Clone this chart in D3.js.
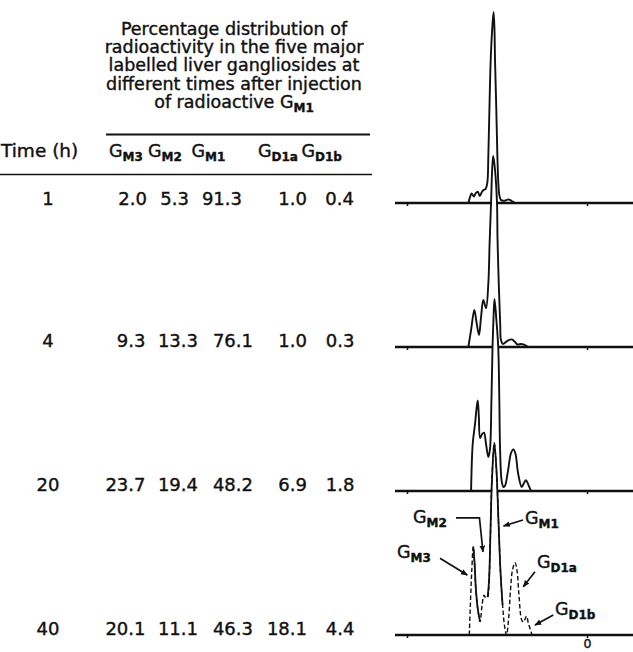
<!DOCTYPE html>
<html>
<head>
<meta charset="utf-8">
<script src="https://cdn.jsdelivr.net/npm/d3@7"></script>
<style>
  body { margin: 0; background: #fff; }
  svg { display: block; }
  text { font-family: "DejaVu Sans", sans-serif; fill: #111; stroke: #111; stroke-width: 0.4; }
</style>
</head>
<body>
<div id="chart"></div>
<script>
// Données
const times = ["1", "4", "20", "40"];
const gangliosides = ["M3", "M2", "M1", "D1a", "D1b"];
const pct1h = [2.0, 5.3, 91.3, 1.0, 0.4];
const pct4h = [9.3, 13.3, 76.1, 1.0, 0.3];
const pct20h = [23.7, 19.4, 48.2, 6.9, 1.8];
const pct40h = [20.1, 11.1, 46.3, 18.1, 4.4];
const titleLines = [
  "Percentage distribution of",
  "radioactivity in the five major",
  "labelled liver gangliosides at",
  "different times after injection"
];

// Profils de radioactivité : [distance depuis l'origine, intensité relative (pic GM1 = 100)]
const trace1h = [[65.9,0],[65.0,3.1],[64.1,5.0],[62.9,3.4],[61.8,5.2],[60.7,5.9],[59.6,3.7],[58.4,5.8],
  [57.5,6.8],[56.4,7.3],[55.4,10.5],[54.8,25.1],[54.2,49.7],[53.5,74.9],[52.7,90.6],[51.9,100],
  [51.4,90.6],[51.1,74.9],[50.4,49.7],[49.8,25.1],[49.2,9.4],[48.6,3.7],[47.8,1.6],[46.4,1.2],
  [45.3,1.3],[43.7,1.9],[42.2,1.3],[40.0,0]];
const trace4h = [[65.9,0],[64.4,8.9],[62.6,19.4],[61.4,13.1],[60.0,6.3],[58.9,15.2],[57.6,24.6],
  [56.1,20.3],[54.8,33.5],[54.1,54.5],[53.3,75.4],[52.7,92.7],[52.1,100],[51.1,92.7],[50.0,75.4],
  [49.7,56.0],[48.9,29.8],[48.2,11.5],[47.8,3.7],[46.7,1.6],[44.4,3.1],[41.8,4.0],[40.0,2.6],
  [38.6,1.3],[36.7,1.6],[35.0,1.3],[32.6,0]];
const trace20h = [[64.4,0],[63.5,24.6],[62.2,35.1],[61.4,42.9],[60.7,47.4],[60.1,39.3],[59.4,27.7],
  [58.3,29.8],[57.2,30.5],[56.1,24.6],[54.8,17.8],[53.9,22.0],[53.1,47.1],[52.5,74.9],[52.0,89.0],
  [51.4,100.5],[50.3,89.0],[49.3,74.9],[48.7,47.1],[48.3,22.5],[47.4,5.2],[46.4,2.1],[45.6,2.6],
  [43.9,10.5],[42.2,19.9],[40.9,21.8],[39.7,19.4],[38.3,9.4],[36.3,2.1],[35.0,4.2],[33.9,5.6],
  [32.5,3.1],[31.1,0]];
const trace40h = [[65.4,0],[64.7,18.3],[64.0,34.0],[63.2,46.2],[62.5,38.2],[61.7,23.6],[60.6,13.1],
  [59.4,7.0],[58.3,15.7],[57.2,20.9],[56.3,19.4],[55.2,19.9],[54.4,28.8],[53.6,55.0],[52.8,81.2],
  [51.5,100.5],[50.3,86.4],[49.2,60.2],[48.1,34.0],[46.9,15.7],[45.8,4.7],[44.7,0],[43.6,7.9],
  [42.5,23.6],[41.4,34.0],[40.0,37.9],[38.9,34.0],[37.8,20.9],[36.3,7.9],[35.3,6.8],[33.6,9.9],
  [32.5,5.8],[31.3,2.6],[30.6,0]];
const traces = [trace1h, trace4h, trace20h, trace40h];
const pcts = [pct1h, pct4h, pct20h, pct40h];

// Portions en trait plein du tracé à 40 h (le reste est en tirets)
const solidSpans40h = [[59.4, 63.2], [46.9, 55.2]];

// Flèches d'identification sur le tracé à 40 h : pointe (distance, intensité), décalages en px
const labels40h = [
  { sub: "M2", tip: [57.8, 43.5], path: [[-3.5, -34], [-27, -34]], text: [-70, -29] },
  { sub: "M1", tip: [46.4, 57.1], path: [[19.5, -6]], text: [21.5, -2] },
  { sub: "M3", tip: [66.5, 31.4], path: [[-27.3, -16.7]], text: [-70.3, -17] },
  { sub: "D1a", tip: [35.4, 25.3], path: [[11.7, -15]], text: [13.7, -18.7] },
  { sub: "D1b", tip: [28.9, 5.2], path: [[18.3, -10]], text: [20, -10] }
];

const width = 633, height = 652;
const svg = d3.select("#chart").append("svg")
  .attr("width", width).attr("height", height);

svg.append("defs").append("marker")
  .attr("id", "head").attr("viewBox", "0 0 10 10")
  .attr("refX", 9).attr("refY", 5)
  .attr("markerWidth", 7).attr("markerHeight", 7)
  .attr("markerUnits", "userSpaceOnUse")
  .attr("orient", "auto")
  .append("path").attr("d", "M0,1 L10,5 L0,9 Z").attr("fill", "#111");

// Échelles
const xMig = d3.scaleLinear().domain([0, 100]).range([587, 407]);
const yRow = d3.scalePoint().domain(times).range([203, 635]);
const hScale = d3.scaleLinear().domain([0, 100]).range([0, 191]);

// ---------- Tableau ----------
const table = svg.append("g");
const titleCx = 234;
titleLines.forEach((t, i) => {
  table.append("text")
    .attr("x", titleCx).attr("y", 35 + i * 18.2)
    .attr("text-anchor", "middle").attr("font-size", 17.5)
    .text(t);
});
const last = table.append("text")
  .attr("x", titleCx).attr("y", 35 + 4 * 18.2)
  .attr("text-anchor", "middle").attr("font-size", 17.5);
last.append("tspan").text("of radioactive G");
last.append("tspan").attr("font-size", 12).attr("font-weight", "bold").attr("dy", 4).text("M1");

table.append("line").attr("x1", 106).attr("x2", 370).attr("y1", 134.5).attr("y2", 134.5)
  .attr("stroke", "#111").attr("stroke-width", 1.8);

table.append("text").attr("x", 1).attr("y", 157).attr("font-size", 18.5).text("Time (h)");
const headerX = [109, 148, 191.5, 258, 301.5];
gangliosides.forEach((g, i) => {
  const t = table.append("text").attr("x", headerX[i]).attr("y", 157).attr("font-size", 17.5);
  t.append("tspan").text("G");
  t.append("tspan").attr("font-size", 12).attr("font-weight", "bold").attr("dy", 4).text(g);
});

table.append("line").attr("x1", 0).attr("x2", 372).attr("y1", 174.5).attr("y2", 174.5)
  .attr("stroke", "#111").attr("stroke-width", 1.6);

const colRight = [145.5, 198, 253, 307, 354.5];
const colRightFirst = [147, 189, 242, 307, 354];
times.forEach((t, r) => {
  const y = yRow(t) + (r === 0 ? 2 : 0);
  table.append("text").attr("x", 48).attr("y", y)
    .attr("text-anchor", "middle").attr("font-size", 18).attr("stroke-width", 0.55).text(t);
  pcts[r].forEach((v, c) => {
    table.append("text")
      .attr("x", (r === 0 ? colRightFirst : colRight)[c]).attr("y", y)
      .attr("text-anchor", "end").attr("font-size", 18).attr("stroke-width", 0.55)
      .text(v.toFixed(1));
  });
});

// ---------- Radiochromatogrammes ----------
const curve = d3.curveCatmullRom.alpha(0.5);
traces.forEach((tr, i) => {
  const base = yRow(times[i]);
  const g = svg.append("g");
  const area = d3.area().x(d => xMig(d[0])).y0(base).y1(d => base - hScale(d[1])).curve(curve);
  const line = d3.line().x(d => xMig(d[0])).y(d => base - hScale(d[1])).curve(curve);

  g.append("path").attr("d", area(tr)).attr("fill", "#fff");

  // ligne de base et repères
  g.append("line")
    .attr("x1", xMig(106.7)).attr("x2", xMig(-26))
    .attr("y1", base).attr("y2", base)
    .attr("stroke", "#111").attr("stroke-width", 2.6);
  const isLast = i === traces.length - 1;
  const axis = d3.axisBottom(xMig).tickValues([0, 100]).tickSize(3).tickPadding(isLast ? 1 : 6)
    .tickFormat(d => (isLast && d === 0) ? "0" : "");
  const ax = g.append("g").attr("transform", `translate(0,${base})`).call(axis);
  ax.select(".domain").remove();
  ax.selectAll(".tick line").attr("stroke", "#111").attr("stroke-width", 1.5);
  ax.selectAll(".tick text").attr("font-size", 12.5).attr("font-family", "DejaVu Sans")
    .attr("fill", "#111");

  if (i < 3) {
    g.append("path").attr("d", line(tr)).attr("fill", "none")
      .attr("stroke", "#111").attr("stroke-width", 1.9).attr("stroke-linejoin", "round");
  } else {
    g.append("path").attr("d", line(tr)).attr("fill", "none")
      .attr("stroke", "#111").attr("stroke-width", 1.4).attr("stroke-dasharray", "4.5,2.5");
    solidSpans40h.forEach(([a, b]) => {
      const part = tr.filter(d => d[0] >= a && d[0] <= b);
      g.append("path").attr("d", line(part)).attr("fill", "none")
        .attr("stroke", "#111").attr("stroke-width", 1.8).attr("stroke-linejoin", "round");
    });
  }
});

// Étiquettes des pics (tracé 40 h)
const base40 = yRow("40");
labels40h.forEach(l => {
  const tx = xMig(l.tip[0]), ty = base40 - hScale(l.tip[1]);
  const pts = l.path.slice().reverse().map(p => [tx + p[0], ty + p[1]]);
  pts.push([tx, ty]);
  svg.append("path").attr("d", d3.line()(pts)).attr("fill", "none")
    .attr("stroke", "#111").attr("stroke-width", 1.7).attr("marker-end", "url(#head)");
  const t = svg.append("text").attr("x", tx + l.text[0]).attr("y", ty + l.text[1]).attr("font-size", 17.5);
  t.append("tspan").text("G");
  t.append("tspan").attr("font-size", 12).attr("font-weight", "bold").attr("dy", 4).text(l.sub);
});
</script>
</body>
</html>
